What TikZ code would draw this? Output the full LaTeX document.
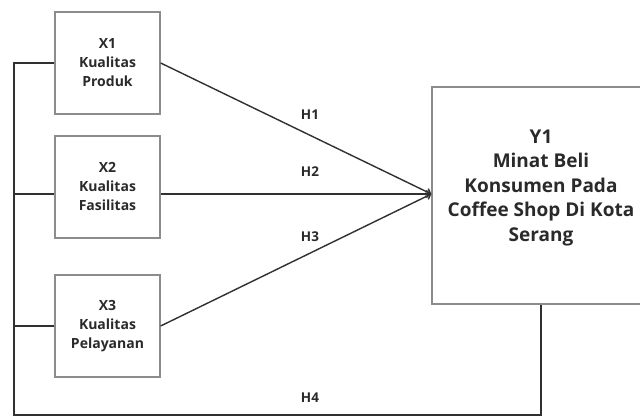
\documentclass[tikz,border=0pt]{standalone}
\usepackage{fontspec}
\setmainfont{Open Sans}
\usetikzlibrary{arrows.meta}
\definecolor{linec}{HTML}{303030}
\definecolor{boxc}{HTML}{8C8C8C}
\definecolor{txtc}{HTML}{2A2A2A}
\tikzset{
  xbox/.style={draw=boxc, line width=1.3pt, minimum width=105pt, minimum height=102pt, align=center, font=\bfseries\fontsize{14}{19}\selectfont, text=txtc, inner sep=0pt},
  ybox/.style={draw=boxc, line width=1.3pt, minimum width=213pt, minimum height=217pt, inner sep=0pt},
  ytext/.style={align=center, font=\bfseries\fontsize{19}{24.5}\selectfont, text=txtc, inner sep=0pt},
  conn/.style={draw=linec, line width=1.4pt},
  hlab/.style={font=\bfseries\fontsize{13.5}{15}\selectfont, text=txtc, inner sep=0pt}
}
\begin{document}
\begin{tikzpicture}[x=1pt,y=-1pt]
\useasboundingbox (0,0) rectangle (640,419);
\clip (0,0) rectangle (640,419);
\node[xbox] (X1) at (107.5,63) {X1\\Kualitas\\Produk};
\node[xbox] (X2) at (107.5,187) {X2\\Kualitas\\Fasilitas};
\node[xbox] (X3) at (107.5,326) {X3\\Kualitas\\Pelayanan};
\node[ybox] (Y1) at (538.5,195.5) {};
\node[ytext] (Y1t) at (541,188) {Y1\\Minat Beli\\Konsumen Pada\\Coffee Shop Di Kota\\Serang};
\coordinate (tip) at (Y1.west |- 0,194);
\coordinate (busTop) at (14,63);
\coordinate (busBot) at (14,415);
\coordinate (yBot) at (541,415);
\draw[conn, -{Straight Barb[length=4pt,width=7pt]}] (X1.east) -- (tip);
\draw[conn, -{Straight Barb[length=4pt,width=7pt]}] (X2.east |- tip) -- (tip);
\draw[conn, -{Straight Barb[length=4pt,width=7pt]}] (X3.east) -- (tip);
\draw[conn] (X1.west) -- (busTop) -- (busBot) -- (yBot) -- (yBot |- Y1.south);
\draw[conn] (X2.west |- tip) -- (busTop |- tip);
\draw[conn] (X3.west) -- (busTop |- X3.west);
\node[hlab] (H1) at (310,115) {H1};
\node[hlab] (H2) at (310,172) {H2};
\node[hlab] (H3) at (310,237) {H3};
\node[hlab] (H4) at (310,398) {H4};
\end{tikzpicture}
\end{document}
